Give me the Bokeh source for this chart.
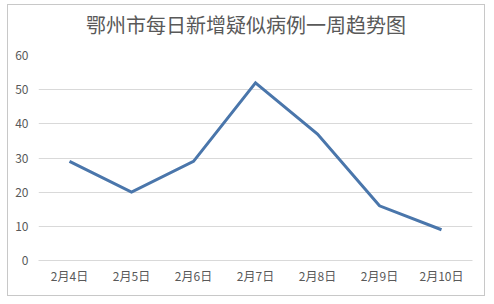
from bokeh.plotting import figure
from bokeh.models import Range1d, FactorRange, Div
from bokeh.layouts import column
from bokeh.embed import file_html
from bokeh.resources import INLINE

title_text = "鄂州市每日新增疑似病例一周趋势图"
dates = ["2月4日", "2月5日", "2月6日", "2月7日", "2月8日", "2月9日", "2月10日"]
cases = [29, 20, 29, 52, 37, 16, 9]
y_ticks = [0, 10, 20, 30, 40, 50, 60]

FONT = "Noto Sans CJK SC"
GRAY = "#595959"

title_div = Div(text=title_text, width=476, height=40, margin=0,
                styles={"text-align": "center", "font-family": FONT, "font-size": "20px",
                        "color": GRAY, "line-height": "40px", "width": "476px",
                        "background": "white"})

p = figure(width=476, height=250, output_backend="svg", toolbar_location=None,
           x_range=FactorRange(*dates, range_padding=0), y_range=Range1d(0, 60),
           min_border_left=30, min_border_right=12, min_border_top=10, min_border_bottom=35,
           margin=0)
p.outline_line_color = None
p.background_fill_color = "white"
p.border_fill_color = "white"

p.line(x=dates, y=cases, line_color="#4a76ab", line_width=3, line_join="miter")

p.ygrid.grid_line_color = "#d9d9d9"
p.ygrid.ticker = y_ticks
p.xgrid.grid_line_color = None

p.yaxis.ticker = y_ticks
p.yaxis.axis_line_color = None
p.yaxis.major_tick_line_color = None
p.yaxis.minor_tick_line_color = None
p.yaxis.major_tick_out = 0
p.yaxis.major_tick_in = 0
p.yaxis.major_label_standoff = 10
p.yaxis.major_label_text_font = FONT
p.yaxis.major_label_text_font_size = "12px"
p.yaxis.major_label_text_color = GRAY

p.xaxis.axis_line_color = "#d9d9d9"
p.xaxis.major_tick_line_color = None
p.xaxis.minor_tick_line_color = None
p.xaxis.major_tick_out = 0
p.xaxis.major_tick_in = 0
p.xaxis.major_label_standoff = 6
p.xaxis.major_label_text_font = FONT
p.xaxis.major_label_text_font_size = "12px"
p.xaxis.major_label_text_color = GRAY

layout = column(title_div, p, spacing=0, margin=(4, 9, 8, 7),
                styles={"border": "1px solid #c8c8c8", "background": "white"})

open("out.html", "w").write(file_html(layout, INLINE))
